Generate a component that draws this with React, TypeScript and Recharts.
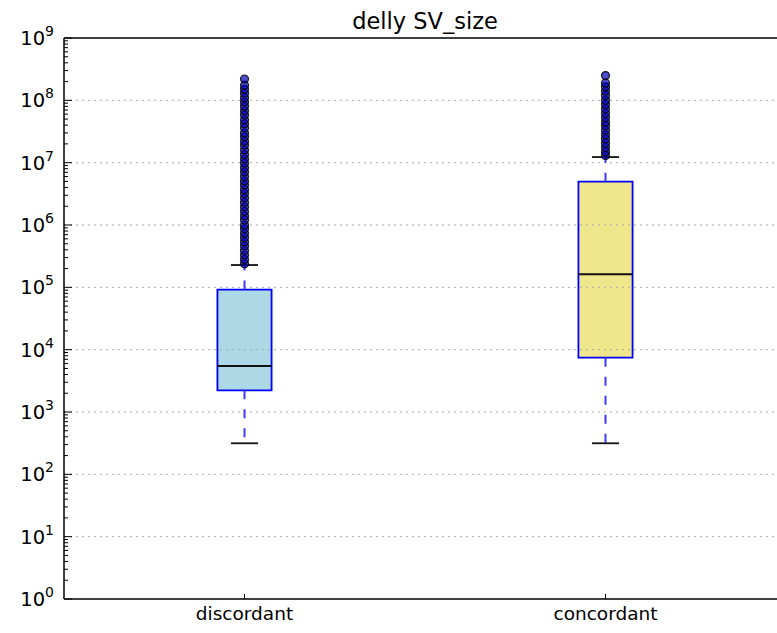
import React from 'react';
import {
  ComposedChart, XAxis, YAxis, ReferenceArea, ReferenceLine, Scatter,
} from 'recharts';

// ── Data ─────────────────────────────────────────────────────────────────────
const categories = ['discordant', 'concordant'];
const positions = [1, 2];
const boxFills = ['#add8e6', '#f0e68c'];

const lowerWhisker = [315, 315];
const q1 = [2230, 7430];
const median = [5470, 162000];
const q3 = [92000, 4950000];
const upperWhisker = [228000, 12300000];

const discordantOutliers = [
  2.4e5, 2.8e5, 3.3e5, 3.9e5, 4.6e5, 5.4e5, 6.3e5, 7.4e5, 8.7e5, 1.0e6,
  1.2e6, 1.4e6, 1.65e6, 1.95e6, 2.3e6, 2.7e6, 3.2e6, 3.7e6, 4.4e6, 5.1e6,
  6.0e6, 7.1e6, 8.3e6, 9.8e6, 1.15e7, 1.35e7, 1.6e7, 1.9e7, 2.2e7, 2.6e7,
  3.0e7, 3.6e7, 4.2e7, 4.9e7, 5.8e7, 6.8e7, 8.0e7, 9.4e7, 1.1e8, 1.3e8,
  1.5e8, 1.75e8, 2.2e8,
];
const concordantOutliers = [
  1.3e7, 1.5e7, 1.75e7, 2.05e7, 2.4e7, 2.8e7, 3.3e7, 3.9e7, 4.5e7, 5.3e7,
  6.2e7, 7.3e7, 8.6e7, 1.0e8, 1.2e8, 1.4e8, 1.65e8, 1.9e8, 2.5e8,
];

const yTicks = [1, 10, 100, 1e3, 1e4, 1e5, 1e6, 1e7, 1e8, 1e9];
const minorTicks = yTicks.slice(0, -1).flatMap((d) => [2, 3, 4, 5, 6, 7, 8, 9].map((m) => m * d));
const allYTicks = [...yTicks, ...minorTicks].sort((a, b) => a - b);

const outlierData = [
  ...discordantOutliers.map((v) => ({ x: positions[0], y: v })),
  ...concordantOutliers.map((v) => ({ x: positions[1], y: v })),
];

// ── Styling ──────────────────────────────────────────────────────────────────
const FONT = '"DejaVu Sans", sans-serif';
const HALF_BOX = 0.075;
const HALF_CAP = 0.0375;

const isMajor = (v: number) => Math.abs(Math.log10(v) - Math.round(Math.log10(v))) < 1e-9;

const YTick = ({ x, y, payload }: any) => {
  const v = payload.value;
  if (!isMajor(v)) {
    return <line x1={x} x2={x + 4} y1={y} y2={y} stroke="#000" strokeWidth={1} />;
  }
  const exp = Math.round(Math.log10(v));
  return (
    <g>
      <line x1={x} x2={x + 8} y1={y} y2={y} stroke="#000" strokeWidth={1} />
      <text x={x - 10} y={y + 7} textAnchor="end" fontSize={19.5} fill="#000" fontFamily={FONT}>
        10<tspan dy={-9} fontSize={14}>{exp}</tspan>
      </text>
    </g>
  );
};

const XTick = ({ x, y, payload }: any) => (
  <g>
    <line x1={x} x2={x} y1={y} y2={y - 5} stroke="#000" strokeWidth={1} />
    <text x={x} y={y + 21} textAnchor="middle" fontSize={18.5} fill="#000" fontFamily={FONT}>
      {categories[payload.value - 1]}
    </text>
  </g>
);

const TopTick = ({ x, y }: any) => (
  <line x1={x} x2={x} y1={y} y2={y + 5} stroke="#000" strokeWidth={1} />
);

// outlier marker — translucent blue with dark edge, stacks into a dark column
const Flier = ({ cx, cy }: any) => (
  <circle cx={cx} cy={cy} r={4} fill="#0000b0" fillOpacity={0.7} stroke="#000" strokeOpacity={0.85} strokeWidth={1.2} />
);

export default function App() {
  return (
    <div style={{ position: 'absolute', left: 0, top: 0, width: 777, height: 633, overflow: 'hidden', background: '#fff' }}>
      <svg width={777} height={40} style={{ position: 'absolute', left: 0, top: 0 }}>
        <text x={425} y={29} textAnchor="middle" fontSize={22.5} fill="#000" fontFamily={FONT}>
          delly SV_size
        </text>
      </svg>
      <div style={{ position: 'absolute', left: 0, top: 0 }}>
        <ComposedChart width={800} height={633} margin={{ top: 0, right: 14, bottom: 0, left: 0 }}>
          <XAxis
            type="number" dataKey="x" domain={[0.5, 2.5]} ticks={positions} allowDataOverflow
            height={34} tickSize={0} tickMargin={0} tickLine={false}
            axisLine={{ stroke: '#000', strokeWidth: 1.5 }} tick={<XTick />} interval={0}
          />
          <XAxis
            xAxisId="top" orientation="top" type="number" domain={[0.5, 2.5]} ticks={positions} allowDataOverflow
            height={38} tickSize={0} tickMargin={0} tickLine={false}
            axisLine={{ stroke: '#000', strokeWidth: 1.5 }} tick={<TopTick />} interval={0}
          />
          <YAxis
            type="number" scale="log" domain={[1, 1e9]} ticks={allYTicks} allowDataOverflow
            width={64} tickSize={0} tickMargin={0} tickLine={false}
            axisLine={{ stroke: '#000', strokeWidth: 1.5 }} tick={<YTick />} interval={0}
          />

          {/* grid lines at the major decades */}
          {yTicks.slice(1, -1).map((t) => (
            <ReferenceLine key={`g${t}`} y={t} stroke="#aaaaaa" strokeWidth={1} strokeDasharray="2 4" />
          ))}

          {/* whiskers */}
          {positions.map((p, i) => (
            <ReferenceLine key={`lw${i}`} segment={[{ x: p, y: q1[i] }, { x: p, y: lowerWhisker[i] }]}
              stroke="#3b3bff" strokeWidth={2} strokeDasharray="9 10" />
          ))}
          {positions.map((p, i) => (
            <ReferenceLine key={`uw${i}`} segment={[{ x: p, y: q3[i] }, { x: p, y: upperWhisker[i] }]}
              stroke="#3b3bff" strokeWidth={2} strokeDasharray="9 10" />
          ))}

          {/* boxes */}
          {positions.map((p, i) => (
            <ReferenceArea key={`box${i}`} x1={p - HALF_BOX} x2={p + HALF_BOX} y1={q1[i]} y2={q3[i]}
              fill={boxFills[i]} fillOpacity={1} stroke="#0000ff" strokeWidth={1.8} />
          ))}

          {/* medians */}
          {positions.map((p, i) => (
            <ReferenceLine key={`med${i}`} segment={[{ x: p - HALF_BOX, y: median[i] }, { x: p + HALF_BOX, y: median[i] }]}
              stroke="#111" strokeWidth={1.8} />
          ))}

          {/* caps */}
          {positions.map((p, i) => (
            <ReferenceLine key={`lc${i}`} segment={[{ x: p - HALF_CAP, y: lowerWhisker[i] }, { x: p + HALF_CAP, y: lowerWhisker[i] }]}
              stroke="#111" strokeWidth={1.8} />
          ))}
          {positions.map((p, i) => (
            <ReferenceLine key={`uc${i}`} segment={[{ x: p - HALF_CAP, y: upperWhisker[i] }, { x: p + HALF_CAP, y: upperWhisker[i] }]}
              stroke="#111" strokeWidth={1.8} />
          ))}

          {/* outliers */}
          <Scatter data={outlierData} dataKey="y" shape={<Flier />} isAnimationActive={false} />
        </ComposedChart>
      </div>
    </div>
  );
}
